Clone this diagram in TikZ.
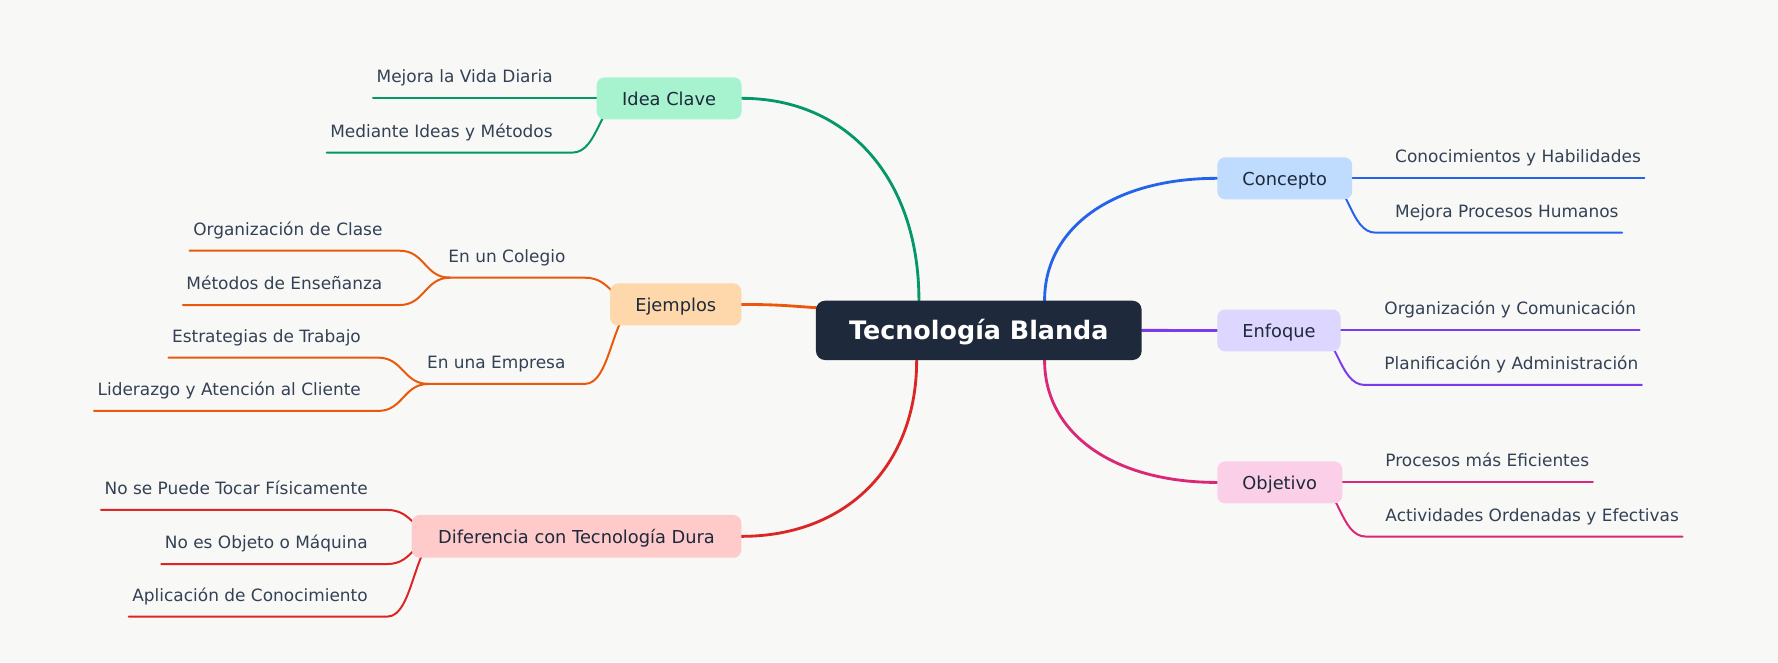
\documentclass[tikz,border=0pt]{standalone}
\usepackage{fontspec}
\setmainfont{DejaVu Sans}
\usetikzlibrary{calc}
\definecolor{bgc}{HTML}{F8F8F6}
\definecolor{rootc}{HTML}{1E293B}
\definecolor{leaftxt}{HTML}{334155}
\definecolor{boxtxt}{HTML}{1E293B}
\definecolor{cgreen}{HTML}{059669}
\definecolor{fgreen}{HTML}{A7F3D0}
\definecolor{corange}{HTML}{EA580C}
\definecolor{forange}{HTML}{FED7AA}
\definecolor{cred}{HTML}{DC2626}
\definecolor{fred}{HTML}{FECACA}
\definecolor{cblue}{HTML}{2563EB}
\definecolor{fblue}{HTML}{BFDBFE}
\definecolor{cpurple}{HTML}{7C3AED}
\definecolor{fpurple}{HTML}{DDD6FE}
\definecolor{cpink}{HTML}{DB2777}
\definecolor{fpink}{HTML}{FBCFE8}
\pgfdeclarelayer{back}
\pgfdeclarelayer{links}
\pgfsetlayers{back,links,main}
% left-side leaf line: #1 colour, #2 leaf node, #3 right gap, #4 parent origin
\newcommand{\lline}[4]{%
  \coordinate (#2-a) at ($(#2.base west)+(-3,13.7)$);
  \coordinate (#2-b) at ($(#2.base east)+(#3,13.7)$);
  \draw[twig,#1] let \p1=(#2-b), \p2=(#4) in (#2-a) -- (#2-b) .. controls ({(\x1+\x2)/2},\y1) and ({(\x1+\x2)/2},\y2) .. (#4);}
% right-side leaf line
\newcommand{\rline}[4]{%
  \coordinate (#2-a) at ($(#2.base west)+(-#3,13.7)$);
  \coordinate (#2-b) at ($(#2.base east)+(3,13.7)$);
  \draw[twig,#1] let \p1=(#2-a), \p2=(#4) in (#2-b) -- (#2-a) .. controls ({(\x1+\x2)/2},\y1) and ({(\x1+\x2)/2},\y2) .. (#4);}
% main branch
\newcommand{\mbranch}[3]{%
  \draw[branch,#1] let \p1=(#2), \p2=(#3) in (#2) .. controls (\x1,{\y1+0.6*(\y2-\y1)}) and ({\x2+0.6*(\x1-\x2)},\y2) .. (#3);}
\begin{document}
\begin{tikzpicture}[x=1pt,y=-1pt,
  box/.style={rounded corners=7pt, inner sep=0pt, minimum height=37pt,
    text height=11.8pt, text depth=0pt, text=boxtxt,
    font=\fontsize{15.7}{18}\selectfont},
  leaf/.style={inner sep=0pt, text=leaftxt, font=\fontsize{14.95}{18}\selectfont},
  branch/.style={line width=2.5pt, line cap=round},
  twig/.style={line width=1.75pt, line cap=round, line join=round}]
\useasboundingbox (0,0) rectangle (1568,584);
\begin{pgfonlayer}{back}
\fill[bgc] (0,0) rectangle (1568,584);
\end{pgfonlayer}

% central node and main boxes
\node[box, fill=rootc, text=white, minimum width=287.2pt, minimum height=52.3pt,
  rounded corners=8pt, text height=16.3pt,
  font=\fontsize{22.4}{26}\selectfont\bfseries] (root) at (863.2,291.35) {Tecnología Blanda};
\node[box, fill=fgreen, minimum width=127.8pt] (idea) at (590.1,86.7) {Idea Clave};
\node[box, fill=forange, minimum width=115.7pt] (ejem) at (595.9,268.5) {Ejemplos};
\node[box, fill=fred, minimum width=290.6pt, minimum height=37.7pt] (dif) at (508.4,473) {Diferencia con Tecnología Dura};
\node[box, fill=fblue, minimum width=119pt] (conc) at (1133,157.25) {Concepto};
\node[box, fill=fpurple, minimum width=108.7pt] (enf) at (1127.85,291.45) {Enfoque};
\node[box, fill=fpink, minimum width=110.2pt] (obj) at (1128.6,425.45) {Objetivo};

% leaf texts, left side
\node[leaf, anchor=base east] (i1) at (487.6,73.0) {Mejora la Vida Diaria};
\node[leaf, anchor=base east] (i2) at (487.6,120.9) {Mediante Ideas y Métodos};
\node[leaf, anchor=base east] (e1) at (498.8,231.2) {En un Colegio};
\node[leaf, anchor=base east] (e2) at (498.8,324.9) {En una Empresa};
\node[leaf, anchor=base east] (g11) at (337.5,207.4) {Organización de Clase};
\node[leaf, anchor=base east] (g12) at (337.4,255.3) {Métodos de Enseñanza};
\node[leaf, anchor=base east] (g21) at (318.4,301.7) {Estrategias de Trabajo};
\node[leaf, anchor=base east] (g22) at (318.4,348.7) {Liderazgo y Atención al Cliente};
\node[leaf, anchor=base east] (d1) at (324.5,436.0) {No se Puede Tocar Físicamente};
\node[leaf, anchor=base east] (d2) at (324.5,483.7) {No es Objeto o Máquina};
\node[leaf, anchor=base east] (d3) at (324.5,530.1) {Aplicación de Conocimiento};
% leaf texts, right side
\node[leaf, anchor=base west] (c1) at (1230.2,143.55) {Conocimientos y Habilidades};
\node[leaf, anchor=base west] (c2) at (1230.2,191.5) {Mejora Procesos Humanos};
\node[leaf, anchor=base west] (f1) at (1220.7,277.75) {Organización y Comunicación};
\node[leaf, anchor=base west] (f2) at (1220.7,325.8) {Planificación y Administración};
\node[leaf, anchor=base west] (o1) at (1221.6,411.75) {Procesos más Eficientes};
\node[leaf, anchor=base west] (o2) at (1221.6,459.5) {Actividades Ordenadas y Efectivas};

% origins hidden under boxes
\coordinate (idea-o) at ($(idea.west)+(26,0)$);
\coordinate (ejem-o) at ($(ejem.west)+(26,0)$);
\coordinate (dif-o) at ($(dif.west)+(26,0)$);
\coordinate (conc-o) at ($(conc.east)+(-26,0)$);
\coordinate (enf-o) at ($(enf.east)+(-26,0)$);
\coordinate (obj-o) at ($(obj.east)+(-26,0)$);
\coordinate (e1-o) at ($(e1.base west)+(1.5,13.7)$);
\coordinate (e2-o) at ($(e2.base west)+(1.5,13.7)$);
% root exits
\coordinate (rg) at ($(root.north)+(-52.8,0)$);
\coordinate (rr) at ($(root.south)+(-54.8,0)$);
\coordinate (rb) at ($(root.north)+(58,0)$);
\coordinate (rp) at ($(root.south)+(58,0)$);
\coordinate (ro) at ($(root.west)+(18,-19)$);

\begin{pgfonlayer}{links}
\mbranch{cgreen}{rg}{idea.east}
\mbranch{cred}{rr}{dif.east}
\mbranch{cblue}{rb}{conc.west}
\mbranch{cpink}{rp}{obj.west}
\draw[branch,corange] (ejem.east) .. controls ($(ejem.east)+(40,0)$) and ($(ro)+(-40,-2)$) .. (ro);
\draw[branch,cpurple] (root.east) -- (enf.west);

\lline{cgreen}{i1}{17}{idea-o}
\lline{cgreen}{i2}{17}{idea-o}
\lline{corange}{e1}{17}{ejem-o}
\lline{corange}{e2}{17}{ejem-o}
\lline{corange}{g11}{15}{e1-o}
\lline{corange}{g12}{15}{e1-o}
\lline{corange}{g21}{15}{e2-o}
\lline{corange}{g22}{15}{e2-o}
\lline{cred}{d1}{17}{dif-o}
\lline{cred}{d2}{17}{dif-o}
\lline{cred}{d3}{17}{dif-o}
\rline{cblue}{c1}{17}{conc-o}
\rline{cblue}{c2}{17}{conc-o}
\rline{cpurple}{f1}{17}{enf-o}
\rline{cpurple}{f2}{17}{enf-o}
\rline{cpink}{o1}{17}{obj-o}
\rline{cpink}{o2}{17}{obj-o}
\end{pgfonlayer}
\end{tikzpicture}
\end{document}
